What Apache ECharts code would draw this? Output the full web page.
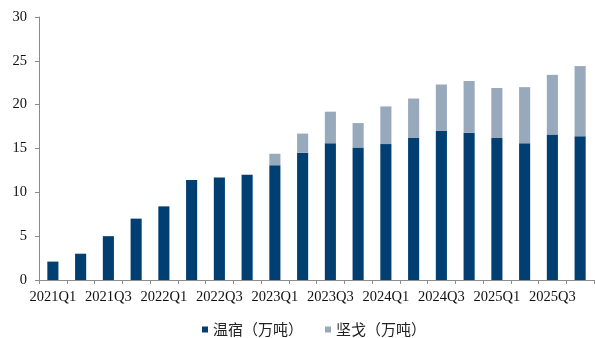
<!DOCTYPE html>
<html>
<head>
<meta charset="utf-8">
<script src="https://cdn.jsdelivr.net/npm/echarts@6/dist/echarts.min.js"></script>
<style>
  html, body { margin: 0; padding: 0; background: #fff; }
  #chart { width: 595px; height: 338px; }
</style>
</head>
<body>
<div id="chart"></div>
<script>
// Quarterly output, 10k tonnes
const quarters = [
  '2021Q1', '2021Q2', '2021Q3', '2021Q4',
  '2022Q1', '2022Q2', '2022Q3', '2022Q4',
  '2023Q1', '2023Q2', '2023Q3', '2023Q4',
  '2024Q1', '2024Q2', '2024Q3', '2024Q4',
  '2025Q1', '2025Q2', '2025Q3', '2025Q4'
];
const wensu = [2.1, 3.0, 5.0, 7.0, 8.4, 11.4, 11.7, 12.0, 13.1, 14.5, 15.6, 15.1, 15.5, 16.2, 17.0, 16.8, 16.2, 15.6, 16.6, 16.4];
const jiange = [0, 0, 0, 0, 0, 0, 0, 0, 1.3, 2.2, 3.6, 2.8, 4.3, 4.5, 5.3, 5.9, 5.7, 6.4, 6.8, 8.0];
const yTicks = { min: 0, max: 30, interval: 5 };

const serif = '"Liberation Serif", "DejaVu Serif", serif';
const axisGray = '#8c8c8c';

const chart = echarts.init(document.getElementById('chart'), null, { renderer: 'canvas' });
chart.setOption({
  animation: false,
  grid: { left: 39, right: 1, top: 17, bottom: 58, containLabel: false },
  legend: {
    top: 322,
    left: 202,
    padding: 0,
    itemWidth: 6,
    itemHeight: 6,
    itemGap: 22,
    icon: 'rect',
    textStyle: { fontFamily: '"Noto Sans CJK SC", sans-serif', fontSize: 15, color: '#222' },
    data: ['温宿（万吨）', '坚戈（万吨）']
  },
  xAxis: {
    type: 'category',
    data: quarters,
    boundaryGap: true,
    axisLine: { lineStyle: { color: axisGray, width: 1 } },
    axisTick: { show: true, alignWithLabel: false, interval: 0, length: 4, lineStyle: { color: axisGray } },
    axisLabel: { interval: 1, margin: 10, fontFamily: serif, fontSize: 14.5, color: '#111' }
  },
  yAxis: {
    type: 'value',
    min: yTicks.min,
    max: yTicks.max,
    interval: yTicks.interval,
    splitLine: { show: false },
    axisLine: { show: true, lineStyle: { color: axisGray, width: 1 } },
    axisTick: { show: true, length: 4, lineStyle: { color: axisGray } },
    axisLabel: { margin: 12, fontFamily: serif, fontSize: 14.5, color: '#111' }
  },
  series: [
    {
      name: '温宿（万吨）',
      type: 'bar',
      stack: 'total',
      data: wensu,
      barWidth: '40%',
      itemStyle: { color: '#013f73' }
    },
    {
      name: '坚戈（万吨）',
      type: 'bar',
      stack: 'total',
      data: jiange,
      barWidth: '40%',
      itemStyle: { color: '#98a9bc' }
    }
  ]
});
</script>
</body>
</html>
